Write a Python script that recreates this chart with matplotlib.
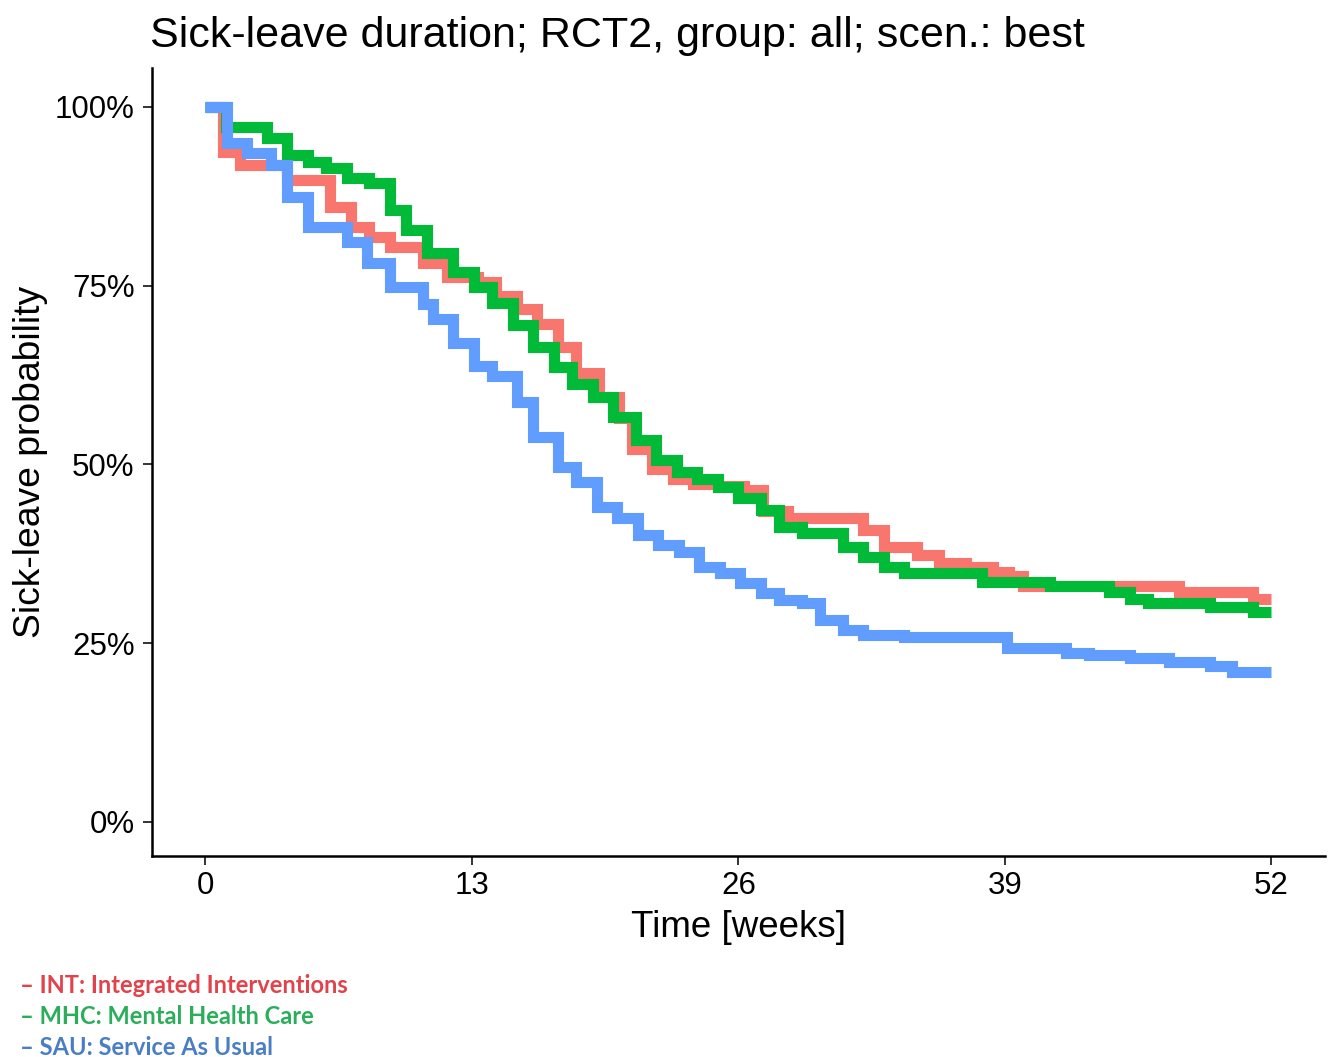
import matplotlib
matplotlib.use("Agg")
import matplotlib.pyplot as plt
from matplotlib.ticker import FuncFormatter

# ---- data (weeks at which each step starts, survival in %) ----
int_weeks = [0, 0.85, 1.7, 4.0, 6.1, 7.1, 8.0, 9.0, 10.6, 11.8, 13.3, 14.2, 15.2,
             16.2, 17.2, 18.1, 19.2, 20.2, 20.8, 21.8, 22.8, 23.8, 25.0, 26.3,
             27.2, 28.4, 32.1, 33.1, 34.7, 35.8, 37.1, 38.4, 39.2, 39.9, 47.5,
             51.1, 52.0]
int_surv = [100, 93.7, 91.9, 89.8, 86.0, 83.2, 81.8, 80.4, 78.2, 76.2, 75.5, 73.6,
            71.8, 69.7, 66.4, 62.8, 59.5, 56.5, 52.2, 49.4, 48.0, 47.3, 47.0, 46.4,
            43.5, 42.5, 40.8, 38.5, 37.3, 36.2, 35.6, 35.0, 34.4, 33.0, 32.2,
            31.2, 31.2]

mhc_weeks = [0, 1.0, 3.0, 4.0, 5.0, 5.9, 6.9, 8.0, 9.0, 9.8, 10.8, 12.1, 13.1,
             14.0, 15.0, 16.0, 17.0, 17.9, 18.9, 19.9, 21.0, 22.0, 23.0, 24.0,
             25.0, 26.0, 27.1, 28.0, 29.1, 31.1, 32.1, 33.1, 34.1, 37.9, 41.2,
             44.1, 45.1, 46.0, 49.0, 51.1, 52.0]
mhc_surv = [100, 97.2, 95.7, 93.3, 92.3, 91.5, 90.1, 89.4, 85.6, 82.8, 79.6, 76.9,
            74.8, 72.6, 69.5, 66.4, 63.6, 61.3, 59.4, 56.6, 53.4, 50.6, 48.9, 48.0,
            46.8, 45.3, 43.6, 41.3, 40.4, 38.5, 37.1, 35.7, 34.8, 33.6, 33.0,
            32.2, 31.2, 30.6, 30.0, 29.4, 29.4]

sau_weeks = [0, 1.07, 2.05, 3.2, 4.0, 5.0, 6.9, 7.9, 9.0, 10.6, 11.1, 12.1, 13.1,
             14.0, 15.2, 16.0, 17.2, 18.1, 19.1, 20.1, 21.1, 22.1, 23.1, 24.1,
             25.1, 26.1, 27.1, 28.0, 29.1, 30.0, 31.1, 32.1, 34.1, 39.1, 42.0,
             43.1, 45.1, 47.0, 49.0, 50.1, 52.0]
sau_surv = [100, 95.0, 93.6, 91.9, 87.4, 83.2, 81.1, 78.2, 74.8, 72.5, 70.4, 67.0,
            63.8, 62.4, 58.7, 53.8, 49.6, 47.5, 44.0, 42.5, 40.1, 38.7, 37.8, 35.7,
            34.8, 33.4, 32.0, 31.0, 30.6, 28.3, 26.9, 26.2, 25.9, 24.3, 23.6,
            23.4, 22.9, 22.4, 21.8, 21.0, 21.0]

x_ticks = [0, 13, 26, 39, 52]
y_ticks = [0, 25, 50, 75, 100]
legend_labels = ["\u2013 INT: Integrated Interventions",
                 "\u2013 MHC: Mental Health Care",
                 "\u2013 SAU: Service As Usual"]

line_colors = ["#F8766D", "#00BA38", "#619CFF"]
legend_colors = ["#E0434B", "#2AAE5A", "#4A7EC4"]

plt.rcParams['font.family'] = ['Liberation Sans', 'DejaVu Sans']

fig = plt.figure(figsize=(13.3, 10.57), dpi=100)
ax = fig.add_axes([0.1143, 0.1902, 0.996 - 0.1143, 0.9357 - 0.1902])

for w, s, c in [(int_weeks, int_surv, line_colors[0]),
                (mhc_weeks, mhc_surv, line_colors[1]),
                (sau_weeks, sau_surv, line_colors[2])]:
    ax.step(w, s, where='post', color=c, lw=8.0, solid_joinstyle='miter',
            solid_capstyle='butt')

ax.set_xlim(-2.6, 54.6)
ax.set_ylim(-4.75, 105.45)
ax.set_xticks(x_ticks)
ax.set_yticks(y_ticks)
ax.yaxis.set_major_formatter(FuncFormatter(lambda v, p: f"{int(v)}%"))

for side in ['top', 'right']:
    ax.spines[side].set_visible(False)
for side in ['left', 'bottom']:
    ax.spines[side].set_linewidth(1.8)
    ax.spines[side].set_color('black')

ax.tick_params(axis='both', length=6.5, width=1.4, color='#333333',
               labelsize=22.5, labelcolor='black')
ax.tick_params(axis='x', pad=4)
ax.tick_params(axis='y', pad=6)

ax.set_xlabel("Time [weeks]", fontsize=26.5, labelpad=7)
ax.set_ylabel("Sick-leave probability", fontsize=26.8, labelpad=5)

fig.text(0.1128, 0.9555, "Sick-leave duration; RCT2, group: all; scen.: best",
         fontsize=31, ha='left', va='baseline')

ys = [0.0625, 0.0335, 0.0045]
for lab, col, y in zip(legend_labels, legend_colors, ys):
    fig.text(0.015, y - 0.006, lab, color=col, fontsize=17,
             fontfamily=['Lato', 'DejaVu Sans'], fontweight='bold',
             ha='left', va='bottom')

fig.savefig("out.png", dpi=100)
